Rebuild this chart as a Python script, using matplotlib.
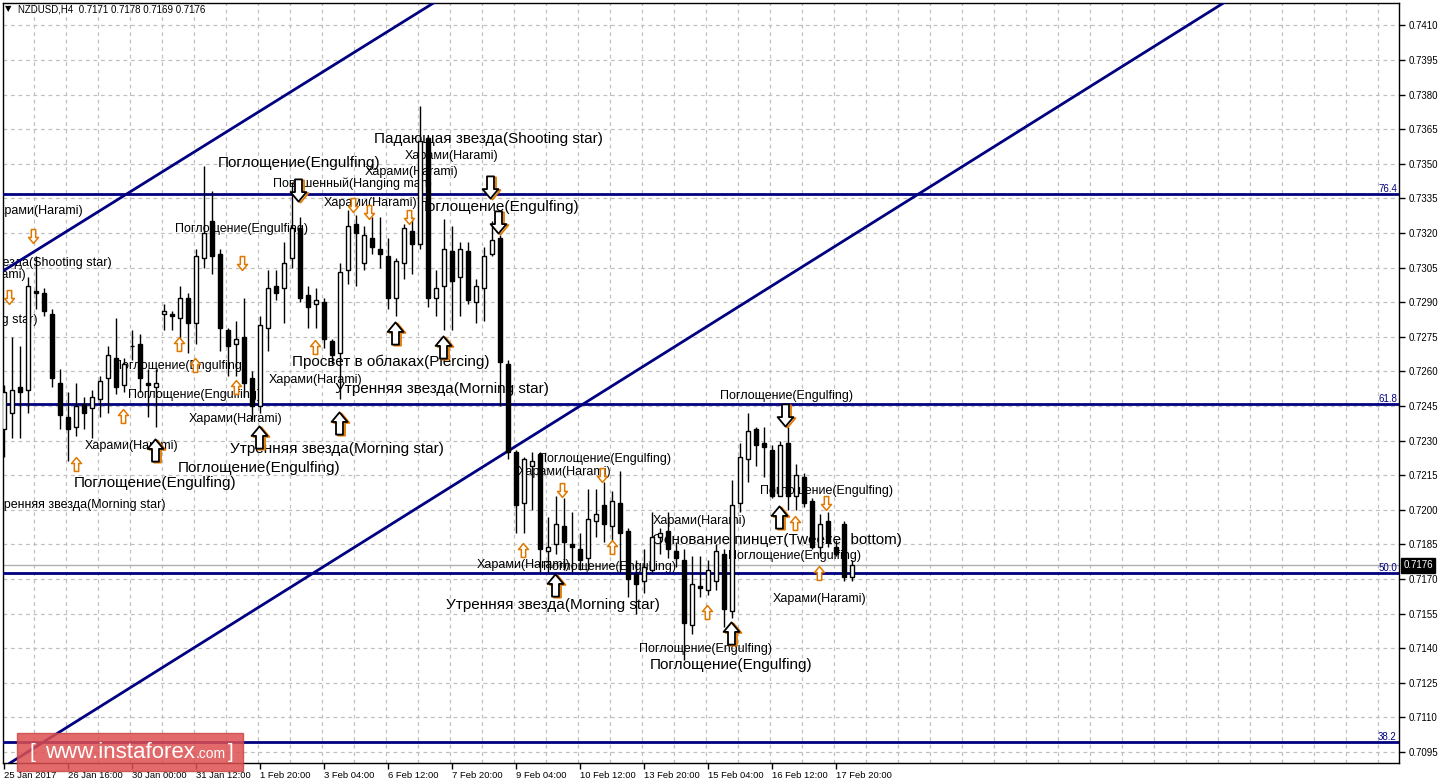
import matplotlib
matplotlib.use('Agg')
import matplotlib.pyplot as plt
import matplotlib.transforms as mtransforms
from matplotlib.patches import FancyBboxPatch
from matplotlib.path import Path

plt.rcParams['font.family'] = ['Liberation Sans', 'DejaVu Sans']

# NZDUSD H4 bars, oldest first
opens = [0.7235, 0.7242, 0.7253, 0.7252, 0.7295, 0.7294, 0.7285, 0.7255, 0.7240, 0.7236,
         0.7246, 0.7244, 0.7248, 0.7257, 0.7266, 0.7254, 0.7271, 0.7272, 0.7255, 0.7253,
         0.7285, 0.7285, 0.7283, 0.7292, 0.7281, 0.7309, 0.7325, 0.7311, 0.7278, 0.7272,
         0.7275, 0.7257, 0.7245, 0.7279, 0.7297, 0.7296, 0.7309, 0.7322, 0.7293, 0.7289,
         0.7290, 0.7273, 0.7268, 0.7304, 0.7324, 0.7307, 0.7318, 0.7313, 0.7310, 0.7292,
         0.7307, 0.7321, 0.7315, 0.7361, 0.7292, 0.7297, 0.7312, 0.7301, 0.7312, 0.7290,
         0.7296, 0.7311, 0.7318, 0.7263, 0.7225, 0.7203, 0.7219, 0.7224, 0.7182, 0.7185,
         0.7193, 0.7185, 0.7183, 0.7179, 0.7195, 0.7202, 0.7193, 0.7203, 0.7191, 0.7172,
         0.7169, 0.7174, 0.7188, 0.7191, 0.7182, 0.7178, 0.7150, 0.7167, 0.7165, 0.7169,
         0.7181, 0.7156, 0.7203, 0.7222, 0.7235, 0.7229, 0.7226, 0.7206, 0.7229, 0.7206,
         0.7214, 0.7204, 0.7184, 0.7195, 0.7184, 0.7194, 0.7171]
highs = [0.7254, 0.7275, 0.7271, 0.7301, 0.7310, 0.7296, 0.7287, 0.7261, 0.7251, 0.7255,
         0.7249, 0.7252, 0.7258, 0.7271, 0.7283, 0.7266, 0.7278, 0.7276, 0.7261, 0.7261,
         0.7289, 0.7286, 0.7297, 0.7294, 0.7313, 0.7349, 0.7338, 0.7313, 0.7279, 0.7282,
         0.7292, 0.7260, 0.7284, 0.7304, 0.7304, 0.7316, 0.7342, 0.7327, 0.7297, 0.7296,
         0.7292, 0.7274, 0.7307, 0.7330, 0.7328, 0.7323, 0.7327, 0.7327, 0.7318, 0.7309,
         0.7324, 0.7327, 0.7375, 0.7362, 0.7304, 0.7326, 0.7323, 0.7316, 0.7316, 0.7300,
         0.7314, 0.7325, 0.7319, 0.7265, 0.7226, 0.7223, 0.7225, 0.7225, 0.7197, 0.7206,
         0.7205, 0.7199, 0.7190, 0.7209, 0.7209, 0.7212, 0.7208, 0.7217, 0.7192, 0.7178,
         0.7183, 0.7199, 0.7192, 0.7199, 0.7186, 0.7183, 0.7180, 0.7180, 0.7178, 0.7185,
         0.7183, 0.7213, 0.7229, 0.7242, 0.7236, 0.7236, 0.7228, 0.7230, 0.7236, 0.7220,
         0.7216, 0.7205, 0.7198, 0.7199, 0.7187, 0.7195, 0.7178]
lows = [0.7223, 0.7231, 0.7231, 0.7242, 0.7287, 0.7284, 0.7253, 0.7235, 0.7221, 0.7232,
        0.7235, 0.7231, 0.7240, 0.7242, 0.7250, 0.7251, 0.7265, 0.7251, 0.7240, 0.7236,
        0.7278, 0.7278, 0.7269, 0.7268, 0.7272, 0.7305, 0.7302, 0.7269, 0.7258, 0.7258,
        0.7249, 0.7239, 0.7242, 0.7269, 0.7291, 0.7281, 0.7305, 0.7290, 0.7279, 0.7279,
        0.7270, 0.7263, 0.7248, 0.7298, 0.7297, 0.7304, 0.7311, 0.7305, 0.7287, 0.7284,
        0.7300, 0.7302, 0.7313, 0.7288, 0.7284, 0.7278, 0.7278, 0.7284, 0.7289, 0.7281,
        0.7282, 0.7310, 0.7245, 0.7222, 0.7190, 0.7190, 0.7200, 0.7173, 0.7173, 0.7181,
        0.7174, 0.7173, 0.7174, 0.7174, 0.7188, 0.7186, 0.7187, 0.7173, 0.7162, 0.7155,
        0.7164, 0.7173, 0.7181, 0.7179, 0.7175, 0.7135, 0.7146, 0.7162, 0.7163, 0.7165,
        0.7149, 0.7153, 0.7199, 0.7212, 0.7219, 0.7214, 0.7205, 0.7206, 0.7200, 0.7200,
        0.7201, 0.7183, 0.7180, 0.7184, 0.7180, 0.7169, 0.7169]
closes = [0.7251, 0.7252, 0.7251, 0.7297, 0.7294, 0.7286, 0.7257, 0.7241, 0.7235, 0.7245,
          0.7242, 0.7249, 0.7256, 0.7267, 0.7253, 0.7263, 0.7271, 0.7257, 0.7254, 0.7255,
          0.7286, 0.7284, 0.7292, 0.7281, 0.7310, 0.7320, 0.7310, 0.7279, 0.7271, 0.7274,
          0.7255, 0.7245, 0.7280, 0.7296, 0.7294, 0.7307, 0.7322, 0.7292, 0.7288, 0.7291,
          0.7274, 0.7267, 0.7303, 0.7323, 0.7320, 0.7319, 0.7314, 0.7311, 0.7292, 0.7308,
          0.7322, 0.7315, 0.7360, 0.7292, 0.7296, 0.7313, 0.7299, 0.7313, 0.7291, 0.7297,
          0.7310, 0.7317, 0.7264, 0.7225, 0.7202, 0.7222, 0.7221, 0.7183, 0.7184, 0.7194,
          0.7186, 0.7184, 0.7178, 0.7196, 0.7198, 0.7194, 0.7204, 0.7190, 0.7170, 0.7168,
          0.7175, 0.7188, 0.7190, 0.7183, 0.7179, 0.7151, 0.7168, 0.7166, 0.7174, 0.7182,
          0.7157, 0.7202, 0.7223, 0.7234, 0.7228, 0.7227, 0.7206, 0.7228, 0.7206, 0.7215,
          0.7203, 0.7184, 0.7194, 0.7186, 0.7181, 0.7171, 0.7176]

time_labels = ['25 Jan 2017', '26 Jan 16:00', '30 Jan 00:00', '31 Jan 12:00', '1 Feb 20:00',
               '3 Feb 04:00', '6 Feb 12:00', '7 Feb 20:00', '9 Feb 04:00', '10 Feb 12:00',
               '13 Feb 20:00', '15 Feb 04:00', '16 Feb 12:00', '17 Feb 20:00']
label_step = 8

fib_levels = [0.73370, 0.72459, 0.71726, 0.70993]
fib_names = ['76.4', '61.8', '50.0', '38.2']
# channel lines, two anchor points each (bar, price)
channel = [((-0.5, 0.73027), (53.5, 0.74193)),
           ((0.75, 0.70902), (152.25, 0.74193))]
last_price = 0.7176

# pattern names: (text, bar, price, big font, anchored at right end)
patterns = [
    ('Падающая звезда(Shooting star)', 46.25, 0.73608, True, False),
    ('Поглощение(Engulfing)', 26.75, 0.73503, True, False),
    ('Поглощение(Engulfing)', 51.6, 0.73313, True, False),
    ('Просвет в облаках(Piercing)', 36.0, 0.72641, True, False),
    ('Утренняя звезда(Morning star)', 41.4, 0.72524, True, False),
    ('Утренняя звезда(Morning star)', 28.25, 0.72264, True, False),
    ('Поглощение(Engulfing)', 21.75, 0.72181, True, False),
    ('Поглощение(Engulfing)', 8.75, 0.72116, True, False),
    ('Утренняя звезда(Morning star)', 55.25, 0.71587, True, False),
    ('Основание пинцет(Tweezer bottom)', 81.0, 0.71869, True, False),
    ('Поглощение(Engulfing)', 80.75, 0.71327, True, False),
    ('Харами(Harami)', 50.1, 0.73534, False, False),
    ('Харами(Harami)', 45.1, 0.73464, False, False),
    ('Повешенный(Hanging man)', 33.6, 0.73412, False, False),
    ('Харами(Harami)', 40.0, 0.73330, False, False),
    ('Харами(Harami)', 9.9, 0.73295, False, True),
    ('Поглощение(Engulfing)', 21.4, 0.73217, False, False),
    ('Падающая звезда(Shooting star)', 13.4, 0.73070, False, True),
    ('Харами(Harami)', 2.75, 0.73018, False, True),
    ('Утренняя звезда(Morning star)', 4.25, 0.72823, False, True),
    ('Поглощение(Engulfing)', 13.6, 0.72623, False, False),
    ('Поглощение(Engulfing)', 15.5, 0.72498, False, False),
    ('Харами(Harami)', 10.1, 0.72277, False, False),
    ('Харами(Harami)', 23.1, 0.72394, False, False),
    ('Харами(Harami)', 33.1, 0.72563, False, False),
    ('Утренняя звезда(Morning star)', 20.25, 0.72021, False, True),
    ('Поглощение(Engulfing)', 89.5, 0.72493, False, False),
    ('Поглощение(Engulfing)', 66.75, 0.72220, False, False),
    ('Харами(Harami)', 64.25, 0.72164, False, False),
    ('Поглощение(Engulfing)', 94.5, 0.72082, False, False),
    ('Харами(Harami)', 81.1, 0.71951, False, False),
    ('Поглощение(Engulfing)', 90.5, 0.71800, False, False),
    ('Харами(Harami)', 59.1, 0.71761, False, False),
    ('Поглощение(Engulfing)', 67.4, 0.71752, False, False),
    ('Харами(Harami)', 96.1, 0.71613, False, False),
    ('Поглощение(Engulfing)', 79.4, 0.71397, False, False),
]

# signal arrows (bar, price)
small_up = [(21.9, 0.72719), (14.9, 0.72407), (9.0, 0.72199), (29.0, 0.72532), (23.9, 0.72628),
            (38.9, 0.72706), (64.9, 0.71826), (76.0, 0.71839), (87.9, 0.71557), (98.9, 0.71943),
            (101.9, 0.71726)]
small_down = [(0.6, 0.72923), (29.75, 0.73070), (3.6, 0.73187), (43.6, 0.73321), (45.6, 0.73291),
              (50.6, 0.73269), (69.75, 0.72086), (74.75, 0.72151), (102.75, 0.72029)]
big_up = [(18.9, 0.72259), (31.9, 0.72316), (48.9, 0.72766), (54.9, 0.72706), (41.9, 0.72376),
          (68.9, 0.71674), (90.9, 0.71466), (96.9, 0.71969)]
big_down = [(36.75, 0.73386), (60.75, 0.73399), (61.75, 0.73248), (97.6, 0.72411)]

W, H = 1439, 784
fig = plt.figure(figsize=(W / 100, H / 100), dpi=100)
fig.patch.set_facecolor('white')
ax = fig.add_axes([3 / W, 21 / H, 1396 / W, 760 / H])
ax.set_xlim(-0.125, 174.375)
ax.set_ylim(0.70902, 0.74197)

navy = '#000080'
grid_c = '#c0c0c0'
orange = '#e07800'

# grid
price_ticks = [0.7095 + 0.0015 * k for k in range(22)]
for p in price_ticks:
    ax.axhline(p, color=grid_c, lw=0.9, ls=(0, (3, 3)), zorder=0)
for b in range(0, 176, 4):
    ax.axvline(b - 0.2, color=grid_c, lw=0.9, ls=(0, (3, 3)), zorder=0)

ax.axhline(last_price, color='#b0b0b0', lw=1, zorder=1)

# pattern text
for txt, b, p, big, right in patterns:
    ax.text(b, p, txt, fontsize=11 if big else 9, color='black',
            ha='right' if right else 'left', va='center', zorder=2, clip_on=True)

# fib levels and channel
for lvl, name in zip(fib_levels, fib_names):
    ax.axhline(lvl, color=navy, lw=2, zorder=3)
    ax.text(0.9985, lvl, name, transform=ax.get_yaxis_transform(), ha='right', va='bottom',
            fontsize=7, color=navy, zorder=3)
for p1, p2 in channel:
    ax.axline(p1, p2, color=navy, lw=2, zorder=3)

# candles
bars = list(range(len(opens)))
for i in bars:
    o, h, l, c = opens[i], highs[i], lows[i], closes[i]
    ax.vlines(i, l, h, color='black', lw=1, zorder=4)
    lo, hi = min(o, c), max(o, c)
    fc = 'white' if c > o else 'black'
    ax.bar(i, max(hi - lo, 0.000005), bottom=lo, width=0.6, color=fc,
           edgecolor='black', lw=1, zorder=5)

# hollow block arrows as markers
up_verts = [(0, 7), (5, 1), (2.2, 1), (2.2, -7), (-2.2, -7), (-2.2, 1), (-5, 1), (0, 7)]
codes = [Path.MOVETO] + [Path.LINETO] * 6 + [Path.CLOSEPOLY]
up_arrow = Path(up_verts, codes)
down_arrow = Path([(x, -y) for x, y in up_verts], codes)

shadow_tr = mtransforms.offset_copy(ax.transData, fig=fig, x=1.3, y=-1.0, units='points')

def draw_arrows(pts, marker, size, edge, shadow):
    if not pts:
        return
    xs = [b for b, p in pts]
    ys = [p for b, p in pts]
    if shadow:
        ax.plot(xs, ys, ls='none', marker=marker, ms=size, mfc='white', mec=orange,
                mew=1.3, transform=shadow_tr, zorder=6)
    ax.plot(xs, ys, ls='none', marker=marker, ms=size, mfc='white', mec=edge,
            mew=1.1 if not shadow else 1.3, zorder=7)

draw_arrows(small_up, up_arrow, 10, orange, False)
draw_arrows(small_down, down_arrow, 10, orange, False)
draw_arrows(big_up, up_arrow, 16, 'black', True)
draw_arrows(big_down, down_arrow, 16, 'black', True)

# axes
for s in ax.spines.values():
    s.set_color('black')
    s.set_linewidth(1)
ax.yaxis.tick_right()
ax.set_yticks(price_ticks)
ax.set_yticklabels([f'{p:.4f}' for p in price_ticks])
ax.tick_params(axis='y', direction='out', length=4, width=1, labelsize=7, pad=3)
ax.set_xticks([k * label_step for k in range(len(time_labels))])
ax.set_xticklabels(time_labels)
ax.tick_params(axis='x', direction='out', length=4, width=1, labelsize=6.8, pad=1.5)
for lab in ax.get_xticklabels():
    lab.set_horizontalalignment('left')

ax.text(1.003, last_price, f'{last_price:.4f}', transform=ax.get_yaxis_transform(),
        ha='left', va='center', fontsize=7, color='white', clip_on=False, zorder=7,
        bbox=dict(boxstyle='square,pad=0.25', fc='black', ec='black'))

# header
fig.text(8 / W, 1 - 9 / H, '▼', fontsize=6, va='center', ha='center', family='DejaVu Sans')
fig.text(18 / W, 1 - 9 / H, 'NZDUSD,H4  0.7171 0.7178 0.7169 0.7176', fontsize=7,
         va='center', ha='left')

# watermark
box = FancyBboxPatch((17 / W, 13 / H), 226 / W, 38 / H, boxstyle='square,pad=0',
                     transform=fig.transFigure, fc='#de5050', ec='#c84848', alpha=0.85,
                     zorder=10)
fig.add_artist(box)
wy = (784 - 752) / H
fig.text(30 / W, wy, '[', fontsize=15, color='white', va='center', ha='left', zorder=11)
fig.text(45 / W, wy, 'www.instaforex', fontsize=16, color='white', va='center', ha='left',
         zorder=11)
fig.text(196 / W, wy - 0.002, '.com', fontsize=10, color='white', va='center', ha='left',
         zorder=11)
fig.text(228 / W, wy, ']', fontsize=15, color='white', va='center', ha='left', zorder=11)

fig.savefig('out.png', dpi=100)
